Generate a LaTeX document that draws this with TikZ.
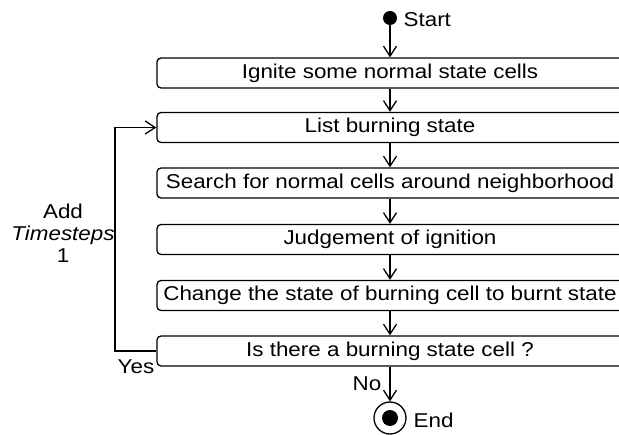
\documentclass[tikz,border=0pt]{standalone}
\usepackage{fontspec}
\setmainfont{Liberation Sans}[FakeStretch=1.12]
\usetikzlibrary{arrows.meta}
\newcommand{\boxtxt}[1]{#1\hspace*{16pt}}
\begin{document}
\begin{tikzpicture}[x=1pt,y=-1pt,
  line width=1.3pt,
  every node/.style={font=\fontsize{20}{22}\selectfont},
  actbox/.style={draw,rectangle,rounded corners=4pt,minimum width=482pt,minimum height=30pt,inner sep=0pt},
  flow/.style={-{Straight Barb[length=10pt,width=13pt,line width=1.3pt]}},
  lbl/.style={inner sep=0pt}]
\useasboundingbox (0,0) rectangle (619,435);
\clip (0,0) rectangle (619,435);
\fill (390,18) circle (7) coordinate (s);
\node[lbl,anchor=west] (st) at (403,20) {Start};
\node[actbox] (b1) at (398,73) {\boxtxt{Ignite some normal state cells}};
\node[actbox] (b2) at (398,127.5) {\boxtxt{List burning state}};
\node[actbox] (b3) at (398,183) {\boxtxt{Search for normal cells around neighborhood}};
\node[actbox] (b4) at (398,239.5) {\boxtxt{Judgement of ignition}};
\node[actbox] (b5) at (398,295.5) {\boxtxt{Change the state of burning cell to burnt state}};
\node[actbox] (b6) at (398,351) {\boxtxt{Is there a burning state cell ?}};
\node[draw,circle,minimum size=32pt,inner sep=0pt] (e) at (390,418) {};
\fill (e.center) circle (8);
\node[lbl,anchor=west] (el) at (413,420) {End};
\draw[flow] (s) -- (b1.north -| s);
\draw[flow] (b1.south -| s) -- (b2.north -| s);
\draw[flow] (b2.south -| s) -- (b3.north -| s);
\draw[flow] (b3.south -| s) -- (b4.north -| s);
\draw[flow] (b4.south -| s) -- (b5.north -| s);
\draw[flow] (b5.south -| s) -- (b6.north -| s);
\draw[flow] (b6.south -| s) -- (e);
\coordinate (lp) at (115,351);
\draw[flow] (b6.west) -- (lp) |- (b2.west);
\node[lbl] (no) at (367,384) {No};
\node[lbl] (yes) at (136,367) {Yes};
\node[lbl,align=center] (add) at (63,233) {Add\\\textit{Timesteps}\\1};
\end{tikzpicture}
\end{document}
